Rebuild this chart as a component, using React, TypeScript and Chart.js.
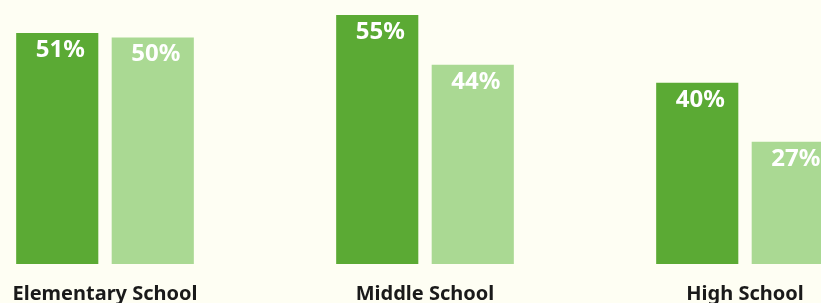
import React, { useEffect, useRef } from "react";
import { Chart, registerables } from "chart.js";

Chart.register(...registerables);

const categories = ["Elementary School", "Middle School", "High School"];
const seriesA = [51, 55, 40];
const seriesB = [50, 44, 27];
const seriesNames = ["Series A", "Series B"];

const BG = "#fefef3";
const DARK = "#5baa34";
const LIGHT = "#aad993";

const valueLabels = {
  id: "valueLabels",
  afterDatasetsDraw(chart: any) {
    const ctx = chart.ctx;
    ctx.save();
    ctx.fillStyle = "#ffffff";
    ctx.font = "bold 24px 'Noto Sans', sans-serif";
    ctx.textAlign = "center";
    ctx.textBaseline = "top";
    chart.data.datasets.forEach((ds: any, i: number) => {
      const meta = chart.getDatasetMeta(i);
      meta.data.forEach((bar: any, j: number) => {
        ctx.fillText(ds.data[j] + "%", bar.x + 3, bar.y + 5);
      });
    });
    ctx.restore();
  },
};

export default function App() {
  const ref = useRef<HTMLCanvasElement>(null);
  useEffect(() => {
    document.body.style.background = BG;
    const chart = new Chart(ref.current!, {
      type: "bar",
      data: {
        labels: categories,
        datasets: [
          { label: seriesNames[0], data: seriesA, backgroundColor: DARK },
          { label: seriesNames[1], data: seriesB, backgroundColor: LIGHT },
        ],
      },
      options: {
        animation: false,
        responsive: false,
        maintainAspectRatio: false,
        layout: { padding: 0 },
        datasets: { bar: { categoryPercentage: 0.597, barPercentage: 0.86 } } as any,
        plugins: { legend: { display: false }, tooltip: { enabled: false } },
        scales: {
          x: {
            grid: { display: false },
            border: { display: false },
            ticks: {
              color: "#1a1a1a",
              padding: 10,
              font: { family: "'Noto Sans', sans-serif", size: 20, weight: "bold" },
            },
          },
          y: { display: false, min: 0, max: 58.3 },
        },
      },
      plugins: [valueLabels],
    });
    return () => chart.destroy();
  }, []);
  return (
    <div style={{ position: "fixed", left: 0, top: 0, right: 0, bottom: 0, background: BG, overflow: "hidden" }}>
      <canvas
        ref={ref}
        width={960}
        height={316}
        style={{ position: "absolute", left: -55, top: 0, width: 960, height: 316 }}
      />
    </div>
  );
}
